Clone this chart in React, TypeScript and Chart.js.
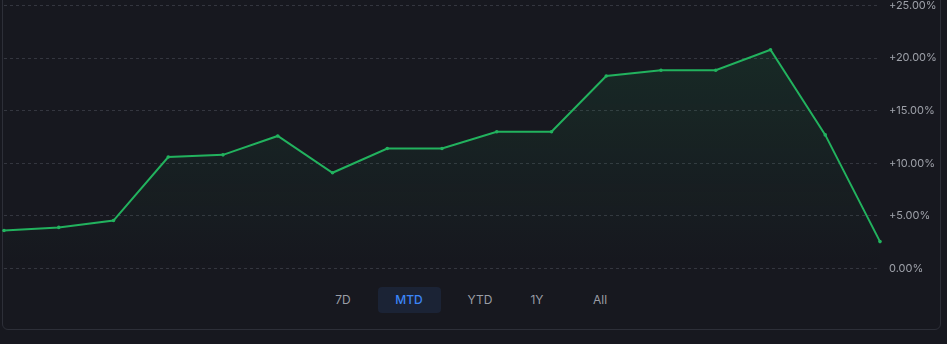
import React, { useEffect, useRef } from "react";
import { Chart, registerables } from "chart.js";

Chart.register(...registerables);

const labels = ["1", "2", "3", "4", "5", "6", "7", "8", "9", "10", "11", "12", "13", "14", "15", "16", "17"];
const returns = [3.6, 3.9, 4.55, 10.6, 10.8, 12.6, 9.1, 11.4, 11.4, 13.0, 13.0, 18.3, 18.85, 18.85, 20.8, 12.7, 2.55];
const yTicks = [0, 5, 10, 15, 20, 25];
const ranges = ["7D", "MTD", "YTD", "1Y", "All"];
const activeRange = "MTD";

const BG = "#17181f";
const GREEN = "#22b25e";

export default function App() {
  const ref = useRef<HTMLCanvasElement | null>(null);

  useEffect(() => {
    document.body.style.margin = "0";
    document.body.style.background = BG;
    const canvas = ref.current;
    if (!canvas) return;
    const chart = new Chart(canvas, {
      type: "line",
      data: {
        labels,
        datasets: [
          {
            data: returns,
            borderColor: GREEN,
            borderWidth: 2,
            pointRadius: 1.8,
            pointBackgroundColor: GREEN,
            pointBorderColor: GREEN,
            pointBorderWidth: 0,
            tension: 0,
            fill: "origin",
            backgroundColor: (ctx: any) => {
              const area = ctx.chart.chartArea;
              if (!area) return "rgba(34,178,94,0.08)";
              const g = ctx.chart.ctx.createLinearGradient(0, area.top, 0, area.bottom);
              g.addColorStop(0, "rgba(34,178,94,0.14)");
              g.addColorStop(1, "rgba(34,178,94,0.0)");
              return g;
            },
          },
        ],
      },
      options: {
        animation: false,
        responsive: false,
        maintainAspectRatio: false,
        layout: { padding: { left: 2, top: 14, bottom: 12, right: 0 } },
        plugins: { legend: { display: false }, tooltip: { enabled: false } },
        scales: {
          x: { display: false, offset: false },
          y: {
            position: "right",
            min: 0,
            max: 25,
            afterBuildTicks: (scale: any) => {
              scale.ticks = yTicks.map((v) => ({ value: v }));
            },
            afterFit: (scale: any) => {
              scale.width = 60;
            },
            grid: {
              color: "#34363f",
              lineWidth: 1,
              drawTicks: false,
            },
            border: { display: false, dash: [3, 3] },
            ticks: {
              padding: 9,
              color: "#9ea1a9",
              font: { family: "Inter", size: 11 },
              callback: (v: any) => (Number(v) === 0 ? "0.00%" : "+" + Number(v).toFixed(2) + "%"),
            },
          },
        },
      },
    });
    return () => chart.destroy();
  }, []);

  const centers = [343, 409, 480, 537, 600];

  return (
    <div style={{ position: "fixed", left: 0, top: 0, width: 947, height: 344, background: BG, overflow: "hidden", fontFamily: "Inter, sans-serif" }}>
      <div
        style={{
          position: "absolute",
          left: 2,
          top: -20,
          width: 939,
          height: 350,
          border: "1px solid #2d2f38",
          borderRadius: 6,
          boxSizing: "border-box",
        }}
      />
      <canvas ref={ref} width={940} height={294} style={{ position: "absolute", left: 0, top: -10, width: 940, height: 294 }} />
      {ranges.map((r, i) => {
        const active = r === activeRange;
        const w = active ? 63 : 40;
        return (
          <div
            key={r}
            style={{
              position: "absolute",
              left: centers[i] - w / 2,
              top: 287,
              width: w,
              height: 26,
              lineHeight: "26px",
              textAlign: "center",
              fontSize: 12,
              fontWeight: active ? 500 : 400,
              color: active ? "#3b86f7" : "#9a9da5",
              background: active ? "#1b2335" : "transparent",
              borderRadius: 4,
            }}
          >
            {r}
          </div>
        );
      })}
    </div>
  );
}
